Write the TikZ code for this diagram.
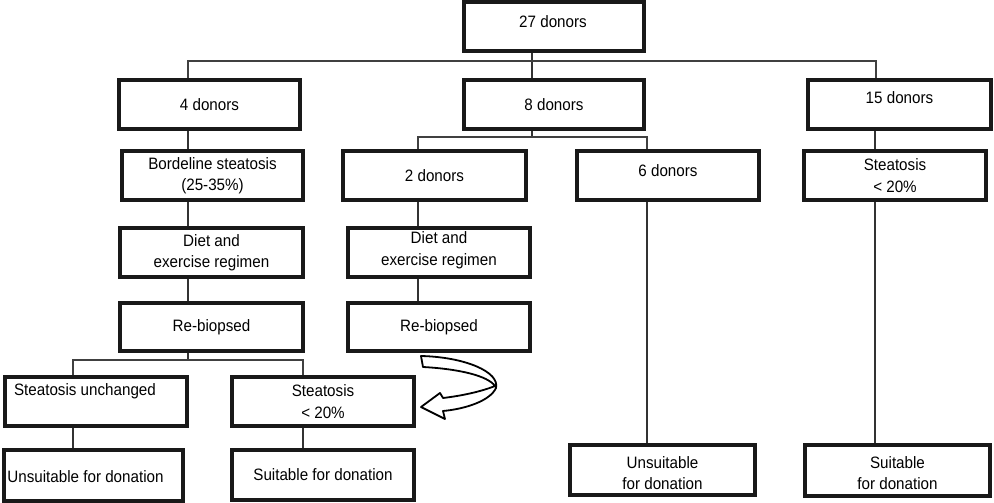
\documentclass[tikz,border=0pt]{standalone}
\usepackage{fontspec}
\setmainfont{Liberation Sans}[FakeStretch=0.92]
\usetikzlibrary{calc}
\begin{document}
\begin{tikzpicture}[x=1pt,y=-1pt,
  box/.style={draw=black!90, line width=3.6pt, inner sep=0pt, minimum height=49.4pt,
    align=center, font=\fontsize{16.5}{21.5}\selectfont},
  conn/.style={draw=black!80, line width=2.6pt},
  bus/.style={draw=black!75, line width=2pt},
  txt/.style={inner sep=0pt, font=\fontsize{16.5}{21.5}\selectfont, align=center}]
\useasboundingbox (0,0) rectangle (994,503);
% boxes
\node[box, minimum width=180.4pt] (top) at (554,26.5) {};
\node[txt] (topt) at (553,21.5) {27 donors};
\node[box, minimum width=181.4pt] (d4) at (209.5,104.5) {4 donors};
\node[box, minimum width=180.4pt] (d8) at (554,104.5) {8 donors};
\node[box, minimum width=183.4pt] (d15) at (899.5,104.5) {};
\node[txt] (d15t) at (899.5,98) {15 donors};
\node[box, minimum width=181.4pt] (bord) at (212.5,175.5) {Bordeline steatosis\\(25-35\%)};
\node[box, minimum width=183.4pt] (d2) at (434.5,175.5) {2 donors};
\node[box, minimum width=182.4pt] (d6) at (668,175.5) {};
\node[txt] (d6t) at (668,171) {6 donors};
\node[box, minimum width=182.4pt] (st1) at (895,175.5) {Steatosis\\\textless{} 20\%};
\node[box, minimum width=183.4pt] (dietL) at (211.5,252.5) {Diet and\\exercise regimen};
\node[box, minimum width=182.4pt] (dietM) at (439,252.5) {};
\node[txt] (dietMt) at (439,250) {Diet and\\exercise regimen};
\node[box, minimum width=183.4pt, minimum height=48.4pt] (rebL) at (211.5,327) {Re-biopsed};
\node[box, minimum width=182.4pt, minimum height=48.4pt] (rebM) at (439,327) {Re-biopsed};
\node[box, minimum width=182.4pt] (unch) at (96,401.5) {};
\node[txt] (uncht) at (85,391) {Steatosis unchanged};
\node[box, minimum width=182.4pt] (st2) at (323,401.5) {Steatosis\\\textless{} 20\%};
\node[box, minimum width=179.4pt, minimum height=51.4pt] (unsL) at (93.5,475.5) {};
\node[txt] (unsLt) at (85.5,477) {Unsuitable for donation};
\node[box, minimum width=182.4pt, minimum height=50.4pt] (suiL) at (323,475) {Suitable for donation};
\node[box, minimum width=185.4pt, minimum height=50.4pt] (unsR) at (662.5,470) {};
\node[txt] (unsRt) at (662.5,473) {Unsuitable\\for donation};
\node[box, minimum width=185.4pt, minimum height=51.4pt] (suiR) at (897.5,470.5) {};
\node[txt] (suiRt) at (897.5,473) {Suitable\\for donation};
% connectors level 1
\draw[conn] (532,0 |- top.south) -- (532,0 |- d8.north);
\draw[bus] (188,0 |- d4.north) -- (188,61) -- (876,61) -- (876,0 |- d15.north);
% left branch
\draw[conn] (188,0 |- d4.south) -- (188,0 |- bord.north);
\draw[conn] (188,0 |- bord.south) -- (188,0 |- dietL.north);
\draw[conn] (188,0 |- dietL.south) -- (188,0 |- rebL.north);
\draw[conn] (188,0 |- rebL.south) -- (188,360);
\draw[bus] (73,0 |- unch.north) -- (73,360) -- (303,360) -- (303,0 |- st2.north);
\draw[conn] (73,0 |- unch.south) -- (73,0 |- unsL.north);
\draw[conn] (303,0 |- st2.south) -- (303,0 |- suiL.north);
% middle branch
\draw[conn] (532,0 |- d8.south) -- (532,137);
\draw[bus] (418,0 |- d2.north) -- (418,137) -- (647,137) -- (647,0 |- d6.north);
\draw[conn] (418,0 |- d2.south) -- (418,0 |- dietM.north);
\draw[conn] (418,0 |- dietM.south) -- (418,0 |- rebM.north);
\draw[conn] (647,0 |- d6.south) -- (647,0 |- unsR.north);
% right branch
\draw[conn] (875,0 |- d15.south) -- (875,0 |- st1.north);
\draw[conn] (875,0 |- st1.south) -- (875,0 |- suiR.north);
% curved hollow arrow
\draw[fill=white, line width=1.8pt, line join=round]
  (421,356) -- (423,367) .. controls (460,369) and (488,376) .. (495,386)
  .. controls (480,392) and (460,396) .. (443,398) -- (440,393) -- (421,407)
  -- (445,419) -- (443,411) .. controls (465,409) and (490,401) .. (496,388)
  .. controls (500,372) and (465,357) .. (421,356) -- cycle;
\end{tikzpicture}
\end{document}
